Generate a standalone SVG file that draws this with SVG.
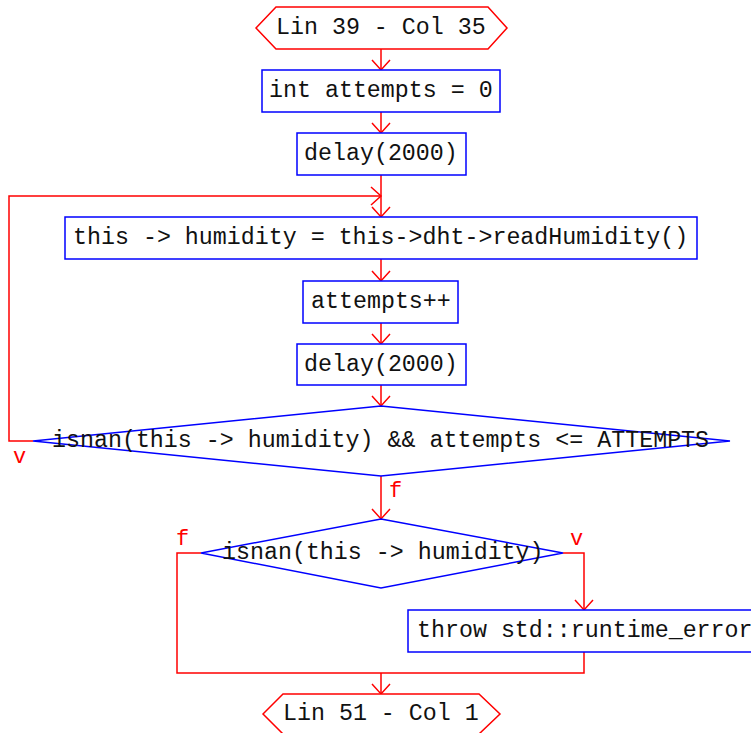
<svg xmlns="http://www.w3.org/2000/svg" width="751" height="733" viewBox="0 0 751 733">
<style>
.t{font-family:"Liberation Mono","Courier New",monospace;font-size:23.3px;fill:#111}
.l{font-family:"Liberation Mono","Courier New",monospace;font-size:22px;fill:#ff0000}
.b{fill:#fff;stroke:#0000ff;stroke-width:1.5}
.r{fill:#fff;stroke:#ff0000;stroke-width:1.5}
.c{fill:none;stroke:#ff0000;stroke-width:1.5}
</style>
<defs>
<marker id="a" markerUnits="userSpaceOnUse" orient="auto" refX="0" refY="0" markerWidth="24" markerHeight="24" viewBox="-12 -12 24 24" overflow="visible">
<path d="M-10,-9 L0,0 L-10,9" fill="none" stroke="#ff0000" stroke-width="1.5"/>
</marker>
</defs>
<rect width="751" height="733" fill="#fff"/>
<g id="connectors">
<path class="c" d="M381,49 V70" marker-end="url(#a)"/>
<path class="c" d="M381,112 V133" marker-end="url(#a)"/>
<path class="c" d="M381,175 V217" marker-end="url(#a)"/>
<path class="c" d="M33,441 H9 V196 H381" marker-end="url(#a)"/>
<path class="c" d="M381,259 V281" marker-end="url(#a)"/>
<path class="c" d="M381,323 V344" marker-end="url(#a)"/>
<path class="c" d="M381,385 V406" marker-end="url(#a)"/>
<path class="c" d="M381,476 V519" marker-end="url(#a)"/>
<path class="c" d="M563,553 H584 V610" marker-end="url(#a)"/>
<path class="c" d="M201,553 H177 V673 H584 V652"/>
<path class="c" d="M381,673 V694" marker-end="url(#a)"/>
<text class="l" x="13" y="463">v</text>
<text class="l" x="389" y="497">f</text>
<text class="l" x="176" y="545">f</text>
<text class="l" x="570" y="545">v</text>
</g>
<g id="start">
<polygon class="r" points="256,28 276,7 488,7 507,28 488,49 276,49"/>
<text class="t" x="276" y="34">Lin 39 - Col 35</text>
</g>
<g id="n1">
<rect class="b" x="262" y="70" width="238" height="42"/>
<text class="t" x="269" y="97">int attempts = 0</text>
</g>
<g id="n2">
<rect class="b" x="297" y="133" width="169" height="42"/>
<text class="t" x="304" y="160">delay(2000)</text>
</g>
<g id="n3">
<rect class="b" x="65" y="217" width="632" height="42"/>
<text class="t" x="73" y="244">this -&gt; humidity = this-&gt;dht-&gt;readHumidity()</text>
</g>
<g id="n4">
<rect class="b" x="303" y="281" width="155" height="42"/>
<text class="t" x="311" y="308">attempts++</text>
</g>
<g id="n5">
<rect class="b" x="297" y="344" width="169" height="41"/>
<text class="t" x="304" y="371">delay(2000)</text>
</g>
<g id="d1">
<polygon class="b" points="381,406 730,441 381,476 33,441"/>
<text class="t" x="52" y="447">isnan(this -&gt; humidity) &amp;&amp; attempts &lt;= ATTEMPTS</text>
</g>
<g id="d2">
<polygon class="b" points="381,519 563,553 381,588 201,553"/>
<text class="t" x="222" y="559">isnan(this -&gt; humidity)</text>
</g>
<g id="n6">
<rect class="b" x="408" y="610" width="360" height="42"/>
<text class="t" x="417" y="637">throw std::runtime_error</text>
</g>
<g id="end">
<polygon class="r" points="263,714 283,694 479,694 500,714 479,734 283,734"/>
<text class="t" x="283" y="720">Lin 51 - Col 1</text>
</g>
</svg>
